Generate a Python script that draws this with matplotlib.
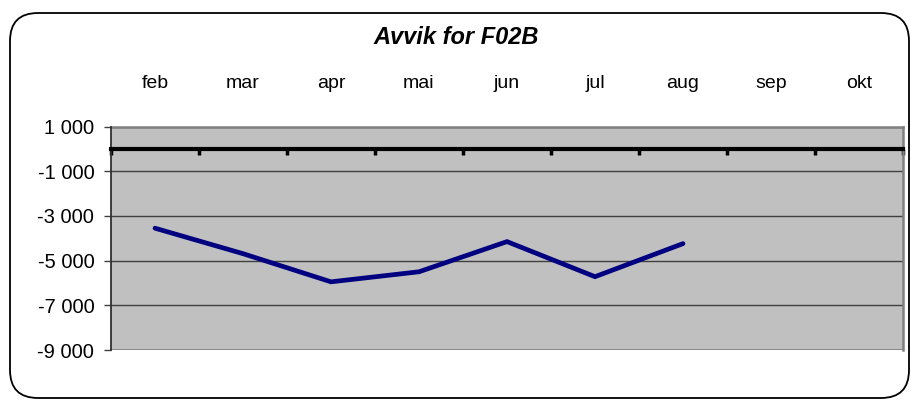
import numpy as np
import matplotlib.pyplot as plt
from matplotlib.patches import FancyBboxPatch
from matplotlib.ticker import FuncFormatter

plt.rcParams['font.family'] = ['Liberation Sans', 'DejaVu Sans']

# data
months = ['feb', 'mar', 'apr', 'mai', 'jun', 'jul', 'aug', 'sep', 'okt']
avvik = [-3550, -4690, -5950, -5500, -4150, -5720, -4240]
y_ticks = [1000, -1000, -3000, -5000, -7000, -9000]
title = 'Avvik for F02B'

fig = plt.figure(figsize=(9.12, 4.01), dpi=100)

# rounded outer frame (pixel coords)
frame = FancyBboxPatch((10, 3), 899, 385, boxstyle='round,pad=0,rounding_size=28',
                       transform=None, facecolor='none', edgecolor='black', linewidth=1.3)
fig.patches.append(frame)

ax = fig.add_axes([111 / 912, 51 / 401, 792 / 912, 223.5 / 401])
ax.set_facecolor('#c0c0c0')

x = np.arange(len(avvik))
ax.plot(x, avvik, color='#000080', linewidth=3.4, solid_capstyle='round',
        solid_joinstyle='miter', zorder=3)

ax.set_xlim(-0.5, len(months) - 0.5)
ax.set_ylim(-9000, 1000)

# y axis
ax.set_yticks(y_ticks)
ax.yaxis.set_major_formatter(FuncFormatter(lambda v, p: f'{int(v):,}'.replace(',', ' ')))
ax.tick_params(axis='y', length=5, width=1, pad=7, labelsize=14.5, color='#404040')
ax.grid(axis='y', color='#404040', linewidth=1)
ax.set_axisbelow(True)

# plot area border, bottom edge drawn as extra line since spine moves to zero
ax.axhline(-9000, color='#808080', linewidth=1.8, zorder=2.5)

# x axis crossing at zero, labels on top
ax.spines['bottom'].set_position(('data', 0))
ax.spines['bottom'].set_linewidth(3)
ax.spines['bottom'].set_color('black')
ax.spines['bottom'].set_zorder(4)
ax.spines['top'].set_color('#808080')
ax.spines['right'].set_color('#808080')
ax.spines['top'].set_linewidth(1.8)
ax.spines['right'].set_linewidth(1.8)
ax.spines['left'].set_color('#303030')
ax.spines['left'].set_linewidth(1.3)
ax.spines['left'].set_zorder(4)

ax.set_xticks(np.arange(len(months)))
ax.set_xticklabels(months)
ax.set_xticks(np.arange(len(months) + 1) - 0.5, minor=True)
ax.tick_params(axis='x', which='major', bottom=False, top=True, labelbottom=False,
               labeltop=True, length=0, pad=25, labelsize=14)
ax.tick_params(axis='x', which='minor', bottom=True, top=False, direction='out',
               length=4, width=2.5, color='black')

fig.text(0.5, 1 - 38 / 401, title, ha='center', va='center', fontsize=17,
         fontweight='bold', fontstyle='italic')

fig.savefig('out.png', dpi=100)
